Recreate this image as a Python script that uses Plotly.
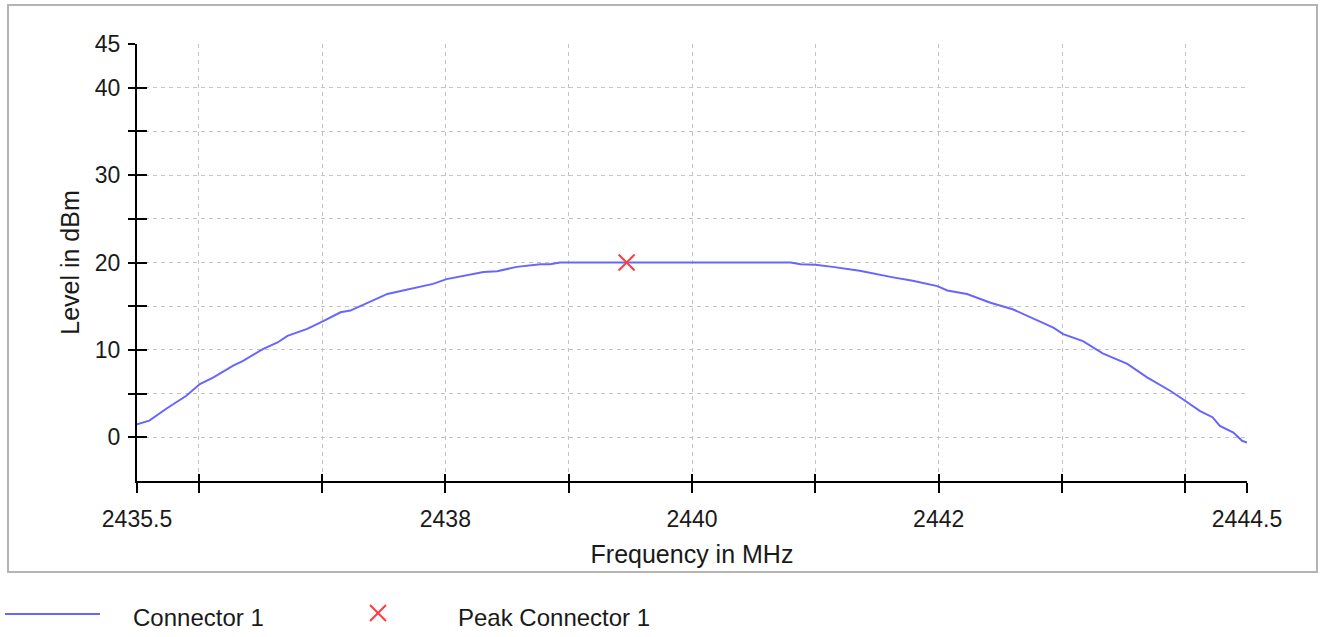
import plotly.graph_objects as go

# ---------------- data ----------------
freq_mhz = [2435.50, 2435.60, 2435.74, 2435.90, 2436.01, 2436.12, 2436.28, 2436.36, 2436.52, 2436.64,
            2436.72, 2436.88, 2437.01, 2437.15, 2437.23, 2437.37, 2437.53, 2437.63, 2437.90, 2438.01,
            2438.31, 2438.42, 2438.58, 2438.77, 2438.85, 2438.93, 2439.20, 2439.50, 2439.80, 2440.10,
            2440.40, 2440.70, 2440.80, 2440.88, 2441.00, 2441.14, 2441.36, 2441.63, 2441.79, 2441.99,
            2442.07, 2442.23, 2442.42, 2442.60, 2442.77, 2442.93, 2443.01, 2443.17, 2443.33, 2443.53,
            2443.69, 2443.88, 2443.98, 2444.12, 2444.22, 2444.28, 2444.39, 2444.46, 2444.50]
level_dbm = [1.5, 1.9, 3.3, 4.75, 6.1, 6.85, 8.2, 8.75, 10.1, 10.85,
             11.6, 12.4, 13.3, 14.3, 14.5, 15.4, 16.4, 16.7, 17.55, 18.1,
             18.9, 19.0, 19.5, 19.8, 19.8, 20.0, 20.0, 20.0, 20.0, 20.0,
             20.0, 20.0, 20.0, 19.8, 19.75, 19.5, 19.05, 18.3, 17.9, 17.3,
             16.8, 16.4, 15.4, 14.65, 13.6, 12.55, 11.8, 11.0, 9.6, 8.4,
             6.85, 5.3, 4.35, 3.0, 2.3, 1.3, 0.55, -0.4, -0.6]

peak_freq = [2439.47]
peak_level = [20.0]

x_tickvals = [2435.5, 2436, 2437, 2438, 2439, 2440, 2441, 2442, 2443, 2444, 2444.5]
x_ticktext = ["2435.5", "", "", "2438", "", "2440", "", "2442", "", "", "2444.5"]
y_tickvals = [0, 5, 10, 15, 20, 25, 30, 35, 40, 45]
y_ticktext = ["0", "", "10", "", "20", "", "30", "", "40", "45"]

series_names = ["Connector 1", "Peak Connector 1"]

# ---------------- layout geometry ----------------
WIDTH, HEIGHT = 1325, 637
L, R, T, B = 137, 78, 44, 156
PW = WIDTH - L - R
PH = HEIGHT - T - B


def px_x(p):
    return (p - L) / PW


def px_y(p):
    return (HEIGHT - B - p) / PH


FONT = "Liberation Sans, Arial, sans-serif"
TXT = "#1a1a1a"
LINE_COLOR = "rgb(102,102,255)"
PEAK_COLOR = "rgb(255,60,60)"
GRID = "#c4c4c4"

fig = go.Figure()
fig.add_trace(go.Scatter(
    x=freq_mhz, y=level_dbm, mode="lines", name=series_names[0],
    line=dict(color=LINE_COLOR, width=2), showlegend=False))
fig.add_trace(go.Scatter(
    x=peak_freq, y=peak_level, mode="markers", name=series_names[1],
    marker=dict(symbol="x-thin", size=16, color=PEAK_COLOR,
                line=dict(color=PEAK_COLOR, width=2)),
    showlegend=False))
# empty trace to activate overlay axes that carry the inner tick marks
fig.add_trace(go.Scatter(x=[], y=[], xaxis="x2", yaxis="y2", showlegend=False,
                         hoverinfo="skip"))

fig.update_layout(
    width=WIDTH, height=HEIGHT,
    margin=dict(l=L, r=R, t=T, b=B, autoexpand=False),
    paper_bgcolor="white", plot_bgcolor="white",
    font=dict(family=FONT, color=TXT, size=23),
    showlegend=False,
    xaxis=dict(
        range=[2435.5, 2444.5], tickmode="array", tickvals=x_tickvals, ticktext=x_ticktext,
        ticks="outside", ticklen=10, tickwidth=1.5, tickcolor="black",
        showline=True, linecolor="black", linewidth=2,
        showgrid=True, gridcolor=GRID, griddash="4px,4px", gridwidth=1,
        zeroline=False, ticklabelstandoff=6,
        tickfont=dict(size=23, color=TXT),
        title=dict(text="Frequency in MHz", font=dict(size=25, color=TXT), standoff=15),
        automargin=False, fixedrange=True,
    ),
    yaxis=dict(
        range=[-5, 45], tickmode="array", tickvals=y_tickvals, ticktext=y_ticktext,
        ticks="outside", ticklen=7, tickwidth=1.5, tickcolor="black",
        showline=True, linecolor="black", linewidth=2,
        showgrid=True, gridcolor=GRID, griddash="4px,4px", gridwidth=1,
        zeroline=False, ticklabelstandoff=3,
        tickfont=dict(size=23, color=TXT),
        title=dict(text="Level in dBm", font=dict(size=25, color=TXT), standoff=8),
        automargin=False, fixedrange=True,
    ),
    xaxis2=dict(
        overlaying="x", matches="x", anchor="y", side="bottom",
        tickmode="array", tickvals=x_tickvals, showticklabels=False,
        ticks="inside", ticklen=7, tickwidth=1.5, tickcolor="black",
        showline=False, showgrid=False, zeroline=False,
    ),
    yaxis2=dict(
        overlaying="y", matches="y", anchor="x", side="left",
        tickmode="array", tickvals=y_tickvals, showticklabels=False,
        ticks="inside", ticklen=10, tickwidth=1.5, tickcolor="black",
        showline=False, showgrid=False, zeroline=False,
    ),
)

# outer frame
fig.add_shape(type="rect", xref="paper", yref="paper", layer="below",
              x0=px_x(8), x1=px_x(1317), y0=px_y(572), y1=px_y(5),
              line=dict(color="#b4b4b4", width=2), fillcolor="rgba(0,0,0,0)")

# manual legend below the frame
leg_y = px_y(614)
fig.add_shape(type="line", xref="paper", yref="paper",
              x0=px_x(5), x1=px_x(100), y0=leg_y, y1=leg_y,
              line=dict(color=LINE_COLOR, width=2))
fig.add_annotation(xref="paper", yref="paper", x=px_x(131), y=px_y(617),
                   text=series_names[0], showarrow=False, xanchor="left", yanchor="middle",
                   font=dict(size=24, color=TXT, family=FONT))
cx, cy = px_x(378), px_y(613)
for a, b in [(-8, 8), (8, -8)]:
    fig.add_shape(type="line", xref="paper", yref="paper",
                  xsizemode="pixel", ysizemode="pixel", xanchor=cx, yanchor=cy,
                  x0=-8, x1=8, y0=a, y1=b,
                  line=dict(color=PEAK_COLOR, width=2))
fig.add_annotation(xref="paper", yref="paper", x=px_x(456), y=px_y(617),
                   text=series_names[1], showarrow=False, xanchor="left", yanchor="middle",
                   font=dict(size=24, color=TXT, family=FONT))

fig.write_html("out.html")
